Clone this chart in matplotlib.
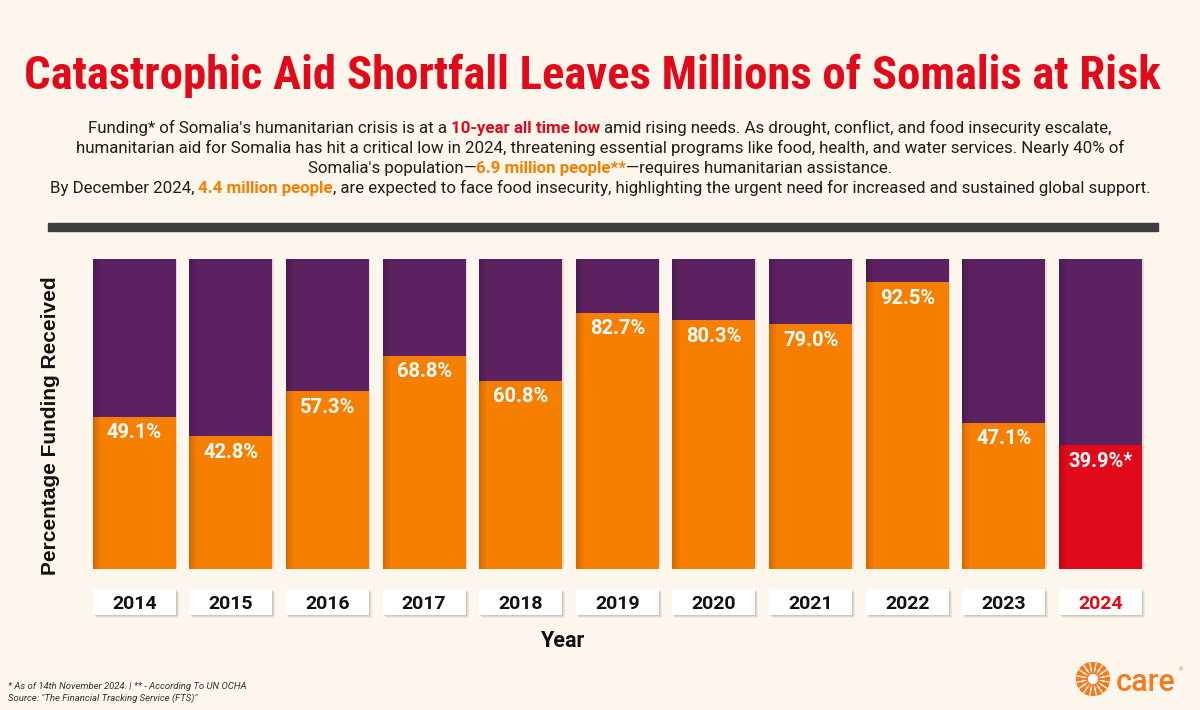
import matplotlib
matplotlib.use('Agg')
import matplotlib.pyplot as plt
from matplotlib import font_manager
from matplotlib.patches import Rectangle, Circle
import matplotlib.transforms as mtrans
import numpy as np

# ---------------- data ----------------
years = ['2014', '2015', '2016', '2017', '2018', '2019', '2020', '2021', '2022', '2023', '2024']
funded = [49.1, 42.8, 57.3, 68.8, 60.8, 82.7, 80.3, 79.0, 92.5, 47.1, 39.9]
value_labels = ['49.1%', '42.8%', '57.3%', '68.8%', '60.8%', '82.7%', '80.3%', '79.0%', '92.5%', '47.1%', '39.9%*']
highlight_year = '2024'

title = 'Catastrophic Aid Shortfall Leaves Millions of Somalis at Risk'
xlabel = 'Year'
ylabel = 'Percentage Funding Received'
footnote1 = '* As of 14th November 2024. | ** - According To UN OCHA'
footnote2 = 'Source: "The Financial Tracking Service (FTS)"'

# ---------------- style ----------------
BG = '#FDF6EC'
PURPLE = '#5B2160'
ORANGE = '#F77F00'
RED = '#E10A1A'
DARK = '#1E1E1E'
BAR_GRAY = '#3C3D41'
LOGO = '#F47B20'

avail = {f.name for f in font_manager.fontManager.ttflist}


def pick(*names):
    for n in names:
        if n in avail:
            return n
    return 'DejaVu Sans'


TITLE_FONT = pick('Liberation Sans Narrow', 'Roboto Condensed', 'DejaVu Sans')
ROBOTO = pick('Roboto', 'Inter', 'DejaVu Sans')
ARIAL = pick('Liberation Sans', 'DejaVu Sans')

W, H = 1200, 710
fig = plt.figure(figsize=(12, 7.1), dpi=100, facecolor=BG)
renderer = fig.canvas.get_renderer()


def fx(x):
    return x / W


def fy(y):
    return 1 - y / H


def fit_text(t, target_w):
    w = t.get_window_extent(renderer).width
    t.set_fontsize(t.get_fontsize() * target_w / w)


# ---------------- title ----------------
t = fig.text(fx(592.5), fy(88.5), title, ha='center', va='baseline', color=RED,
             fontsize=30, fontweight='bold', family=TITLE_FONT,
             fontstretch='condensed')
fit_text(t, 1139)

# ---------------- subtitle with coloured pieces ----------------
lines = [
    [("Funding* of Somalia's humanitarian crisis is at a", DARK, 'normal', False),
     ("10-year all time low", RED, 'bold', True),
     ("amid rising needs. As drought, conflict, and food insecurity escalate,", DARK, 'normal', True)],
    [("humanitarian aid for Somalia has hit a critical low in 2024, threatening essential programs like food, health, and water services. Nearly 40% of", DARK, 'normal', False)],
    [("Somalia's population\u2014", DARK, 'normal', False),
     ("6.9 million people**", ORANGE, 'bold', False),
     ("\u2014requires humanitarian assistance.", DARK, 'normal', False)],
    [("By December 2024,", DARK, 'normal', False),
     ("4.4 million people", ORANGE, 'bold', True),
     (", are expected to face food insecurity, highlighting the urgent need for increased and sustained global support.", DARK, 'normal', False)],
]
baselines = [132.5, 152.5, 172.5, 192.5]


def space_width(fs, weight):
    a = fig.text(0, 0, 'x x', fontsize=fs, family=ROBOTO, weight=weight)
    b = fig.text(0, 0, 'xx', fontsize=fs, family=ROBOTO, weight=weight)
    w = a.get_window_extent(renderer).width - b.get_window_extent(renderer).width
    a.remove(); b.remove()
    return w


def line_width(pieces, fs):
    total = 0
    for s, c, wt, sp in pieces:
        tt = fig.text(0, 0, s, fontsize=fs, family=ROBOTO, weight=wt)
        total += tt.get_window_extent(renderer).width
        tt.remove()
        if sp:
            total += space_width(fs, 'normal')
    return total


fs0 = 12
sub_fs = fs0 * 1102 / line_width(lines[3], fs0)

for pieces, yb in zip(lines, baselines):
    total = line_width(pieces, sub_fs)
    x = 600 - total / 2
    for s, c, wt, sp in pieces:
        if sp:
            x += space_width(sub_fs, 'normal')
        tt = fig.text(fx(x), fy(yb), s, ha='left', va='baseline', color=c,
                      fontsize=sub_fs, family=ROBOTO, weight=wt)
        x += tt.get_window_extent(renderer).width

# dark separator bar
fig.patches.append(Rectangle((fx(48), fy(231)), (1158 - 48) / W, 8 / H,
                             transform=fig.transFigure, color=BAR_GRAY, zorder=1))

# ---------------- bars ----------------
left_px, right_px = 134.2 - 96.63 / 2, 1100.5 + 96.63 / 2
ax = fig.add_axes([fx(left_px), fy(569), (right_px - left_px) / W, 310 / H])
ax.set_facecolor('none')
xpos = np.arange(len(years))
bw = 83 / 96.63
colors = [RED if y == highlight_year else ORANGE for y in years]
remainder = [100 - v for v in funded]
ax.bar(xpos, funded, width=bw, color=colors, zorder=2, linewidth=0)
ax.bar(xpos, remainder, bottom=funded, width=bw, color=PURPLE, zorder=2, linewidth=0)

# subtle left-edge shading and right light edge
for xi in xpos:
    for k, wpx in enumerate([7, 4, 2]):
        ax.add_patch(Rectangle((xi - bw / 2, 0), wpx / 96.63, 100, color='black',
                               alpha=0.05, zorder=3, linewidth=0))
    ax.add_patch(Rectangle((xi + bw / 2, 0), 1.5 / 96.63, 100, color='#E9D9D2',
                           zorder=1, linewidth=0))

for xi, v, lab in zip(xpos, funded, value_labels):
    ax.annotate(lab, (xi, v), xytext=(0, -16 * 0.72), textcoords='offset points',
                ha='center', va='center', color='white', fontsize=14.5,
                fontweight='bold', family=ROBOTO, zorder=4)

ax.set_xlim(-0.5, len(years) - 0.5)
ax.set_ylim(0, 100)
ax.axis('off')

# year boxes
trans = mtrans.blended_transform_factory(ax.transData, fig.transFigure)
for xi, yr in zip(xpos, years):
    for dx, dy, a in [(3, 3, 0.05), (2, 2, 0.07), (1, 1, 0.08)]:
        ax.add_patch(Rectangle((xi - bw / 2 + dx / 96.63, fy(614.5 + dy)), bw, 25.5 / H,
                               transform=trans, color='black', alpha=a,
                               clip_on=False, zorder=1, linewidth=0))
    ax.add_patch(Rectangle((xi - bw / 2, fy(614.5)), bw, 25.5 / H, transform=trans,
                           color='white', clip_on=False, zorder=2, linewidth=0))
    ax.text(xi, fy(602), yr, transform=trans, ha='center', va='center_baseline',
            fontsize=14, fontweight='bold', family=ROBOTO,
            color=RED if yr == highlight_year else '#111111', zorder=3)

# axis labels
fig.text(fx(562), fy(646.7), xlabel, ha='center', va='baseline', fontsize=15.5,
         fontweight='bold', family=ROBOTO, color='#111111')
fig.text(fx(51), fy(426), ylabel, ha='center', va='center', rotation=90,
         fontsize=15, fontweight='bold', family=ARIAL, color='#111111')

# footnotes
fig.text(fx(8), fy(689), footnote1, ha='left', va='baseline', fontsize=6.8,
         style='italic', family=ROBOTO, color='#333333')
fig.text(fx(8), fy(701), footnote2, ha='left', va='baseline', fontsize=6.8,
         style='italic', family=ROBOTO, color='#333333')

# CARE logo
lax = fig.add_axes([fx(1075), fy(697), 36 / W, 36 / H])
lax.set_xlim(-1, 1); lax.set_ylim(-1, 1); lax.axis('off'); lax.set_facecolor('none')
lax.add_patch(Circle((0, 0), 0.95, fc=LOGO, ec='none'))
lax.add_patch(Circle((0, 0), 0.62, fc='white', ec='none'))
ang = np.linspace(0, 2 * np.pi, 16, endpoint=False)
for a in ang:
    lax.plot([0.28 * np.cos(a), 0.95 * np.cos(a)], [0.28 * np.sin(a), 0.95 * np.sin(a)],
             color=LOGO, lw=1.6, solid_capstyle='butt')
    lax.plot([0.62 * np.cos(a + 0.2), 0.9 * np.cos(a + 0.2)],
             [0.62 * np.sin(a + 0.2), 0.9 * np.sin(a + 0.2)],
             color='white', lw=0.9)
fig.text(fx(1116), fy(691), 'care', ha='left', va='baseline', fontsize=22,
         family=ROBOTO, weight='medium', color=LOGO)
fig.text(fx(1179), fy(671), '\u00ae', ha='left', va='baseline', fontsize=4,
         family=ROBOTO, color=LOGO)

fig.savefig('out.png', dpi=100, facecolor=BG)
